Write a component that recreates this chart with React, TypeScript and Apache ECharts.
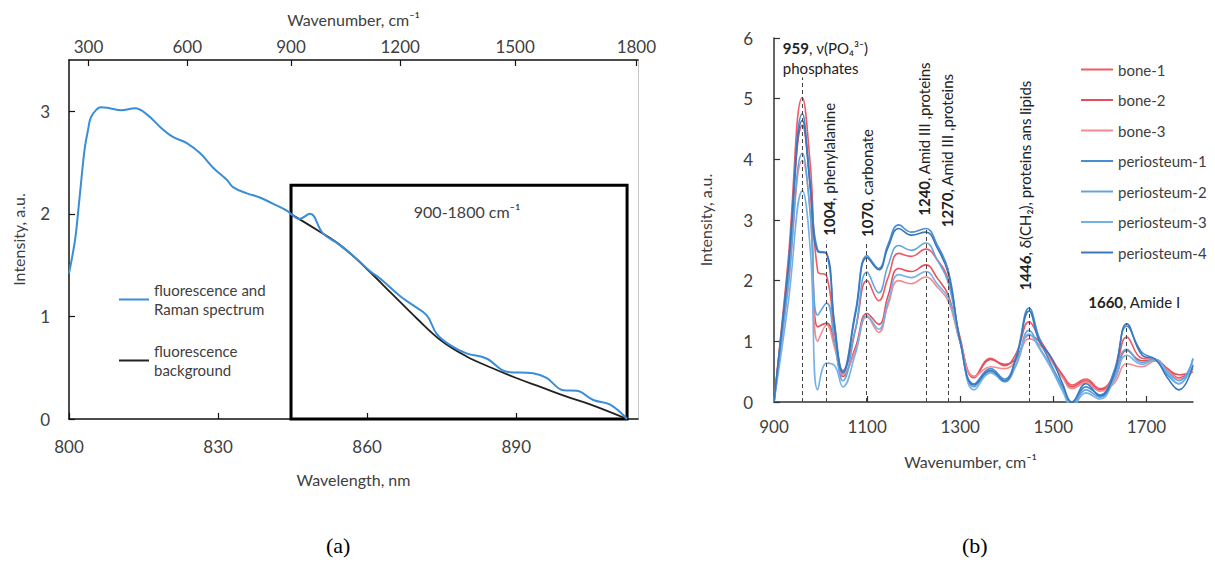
import { useEffect, useRef } from 'react';
import * as echarts from 'echarts';

const FONT = 'Lato, "Open Sans", "DejaVu Sans", sans-serif';
const TXT = '#404040';

// ---------- Panel (a): fluorescence + Raman spectrum ----------
const spectrumNm = [800, 801.2, 801.8, 802.6, 803.2, 803.8, 804.4, 805.6, 806.4, 808.2, 810.5, 813.3, 815.9, 818.5, 820.9, 823.7, 826.4, 829.0, 831.8, 833.0, 835.8, 838.4, 841.0, 843.9, 844.9, 846.3, 848.5, 851.1, 854.1, 857.9, 860.6, 862.6, 866.6, 869.2, 872.0, 874.0, 876.7, 880.0, 884.0, 888.1, 893.4, 896.1, 899.5, 902.2, 905.5, 908.9, 912.3];
const spectrumIntensity = [1.42, 1.74, 2.0, 2.39, 2.65, 2.81, 2.94, 3.02, 3.04, 3.03, 3.01, 3.03, 2.96, 2.84, 2.75, 2.69, 2.59, 2.45, 2.33, 2.26, 2.20, 2.16, 2.10, 2.03, 1.99, 1.95, 2.0, 1.81, 1.71, 1.56, 1.44, 1.37, 1.2, 1.11, 1.01, 0.83, 0.72, 0.64, 0.59, 0.46, 0.445, 0.40, 0.28, 0.275, 0.185, 0.14, 0.0];
const backgroundNm = [844.9, 850, 855, 860, 865, 870, 875, 880, 885, 890, 895, 900, 905, 912.3];
const backgroundIntensity = [1.99, 1.84, 1.68, 1.46, 1.22, 0.98, 0.76, 0.61, 0.5, 0.4, 0.31, 0.22, 0.14, 0.0];
const nmTicks = [800, 830, 860, 890];
const intensityTicksA = [0, 1, 2, 3];
const wavenumberTicks = [300, 600, 900, 1200, 1500, 1800];
const LASER_NM = 785;
const boxRange = [900, 1800];
const boxTop = 2.28;

// ---------- Panel (b): Raman spectra ----------
const ramanShift = [900, 930, 961, 978, 994, 1013, 1030, 1048, 1075, 1100, 1125, 1145, 1168, 1195, 1226, 1250, 1275, 1300, 1330, 1365, 1395, 1420, 1448, 1470, 1495, 1520, 1540, 1570, 1600, 1630, 1658, 1690, 1720, 1745, 1770, 1800];
const bone1 = [0, 2.3, 5.02, 3.9, 2.15, 2.08, 1.15, 0.52, 1.2, 2.0, 1.67, 2.05, 2.45, 2.4, 2.52, 2.35, 2.0, 1.05, 0.42, 0.72, 0.6, 0.8, 1.32, 1.05, 0.72, 0.45, 0.28, 0.38, 0.22, 0.45, 1.07, 0.72, 0.7, 0.55, 0.4, 0.55];
const bone2 = [0, 2.1, 4.56, 3.5, 1.24, 1.3, 0.95, 0.42, 0.9, 1.46, 1.28, 1.75, 2.2, 2.15, 2.26, 2.05, 1.75, 0.98, 0.4, 0.7, 0.62, 0.72, 1.1, 1.0, 0.74, 0.42, 0.25, 0.35, 0.2, 0.35, 0.85, 0.68, 0.68, 0.55, 0.45, 0.5];
const bone3 = [0, 1.85, 3.98, 3.1, 1.0, 1.27, 0.9, 0.45, 0.85, 1.40, 1.15, 1.6, 2.0, 1.95, 2.06, 1.9, 1.65, 0.98, 0.42, 0.58, 0.55, 0.68, 1.04, 0.95, 0.68, 0.4, 0.22, 0.32, 0.18, 0.3, 0.63, 0.58, 0.68, 0.52, 0.38, 0.5];
const periosteum1 = [0, 2.2, 4.75, 3.6, 2.5, 2.45, 1.3, 0.5, 1.5, 2.41, 2.2, 2.6, 2.92, 2.8, 2.86, 2.6, 2.15, 1.0, 0.3, 0.55, 0.38, 0.75, 1.55, 1.05, 0.62, 0.25, -0.05, 0.25, 0.12, 0.5, 1.25, 0.82, 0.7, 0.45, 0.3, 0.72];
const periosteum2 = [0, 1.9, 4.10, 3.1, 1.43, 1.63, 1.0, 0.35, 1.2, 2.14, 1.8, 2.25, 2.58, 2.5, 2.62, 2.35, 1.95, 0.98, 0.25, 0.5, 0.33, 0.62, 1.18, 0.9, 0.58, 0.2, -0.05, 0.2, 0.08, 0.4, 0.87, 0.65, 0.7, 0.5, 0.35, 0.7];
const periosteum3 = [0, 1.6, 3.48, 2.5, 0.2, 0.64, 0.6, 0.25, 0.8, 1.42, 1.2, 1.65, 2.1, 2.05, 2.15, 1.95, 1.7, 0.98, 0.2, 0.48, 0.35, 0.6, 1.12, 0.88, 0.56, 0.18, -0.08, 0.15, 0.05, 0.35, 0.77, 0.62, 0.7, 0.48, 0.3, 0.62];
const periosteum4 = [0, 2.15, 4.64, 3.55, 2.48, 2.45, 1.25, 0.48, 1.45, 2.38, 2.18, 2.55, 2.86, 2.75, 2.8, 2.55, 2.1, 1.0, 0.28, 0.52, 0.35, 0.72, 1.5, 1.0, 0.74, 0.3, 0.0, 0.3, 0.1, 0.45, 1.29, 0.78, 0.7, 0.4, 0.2, 0.6];
const sampleNames = ['bone-1', 'bone-2', 'bone-3', 'periosteum-1', 'periosteum-2', 'periosteum-3', 'periosteum-4'];
const sampleValues = [bone1, bone2, bone3, periosteum1, periosteum2, periosteum3, periosteum4];
const ramanTicks = [900, 1100, 1300, 1500, 1700];

// peak marker lines (position in chart, height of dashed line)
const peakPositions = [961, 1013, 1099, 1226, 1275, 1449, 1657];
const peakLineTops = [5.35, 2.66, 2.62, 2.86, 2.2, 1.6, 1.3];

// peak annotations (data coordinates of text start)
const annotations = [
  { x: 919, y: 5.83, text: '{b|959}, ν(PO₄³⁻)', vertical: false },
  { x: 919, y: 5.5, text: 'phosphates', vertical: false },
  { x: 1018, y: 2.74, text: '{b|1004}, phenylalanine', vertical: true },
  { x: 1099, y: 2.72, text: '{b|1070}, carbonate', vertical: true },
  { x: 1222, y: 3.07, text: '{b|1240}, Amid III ,proteins', vertical: true },
  { x: 1272, y: 2.88, text: '{b|1270}, Amid III ,proteins', vertical: true },
  { x: 1439, y: 1.84, text: '{b|1446}, δ(CH₂), proteins ans lipids', vertical: true },
  { x: 1575, y: 1.65, text: '{b|1660}, Amide I', vertical: false },
];

const sampleColors = ['#EF5A63', '#E34F5A', '#F28C92', '#4A8ED0', '#62A6E0', '#74B2E6', '#3A78BD'];

const toNm = (wn: number) => 1e7 / (1e7 / LASER_NM - wn);
const toWn = (nm: number) => Math.round(1e7 / LASER_NM - 1e7 / nm);

function buildOption(): any {
  const axisTxt = { color: TXT, fontFamily: FONT, fontSize: 17 };
  const nameTxt = { color: TXT, fontFamily: FONT, fontSize: 16 };
  const blackLine = { show: true, onZero: false, lineStyle: { color: '#111', width: 1.5 } };
  const darkLine = { show: true, onZero: false, lineStyle: { color: '#333', width: 1.5 } };
  const tickIn = (c: string) => ({ show: true, inside: true, length: 6, lineStyle: { color: c, width: 1.2 } });
  const plain = (v: number) => String(v);

  const spectrumData = spectrumNm.map((x, i) => [x, spectrumIntensity[i]]);
  const bgData = backgroundNm.map((x, i) => [x, backgroundIntensity[i]]);

  const seriesB = sampleNames.map((name, k) => ({
    name,
    type: 'line',
    xAxisIndex: 2,
    yAxisIndex: 2,
    data: ramanShift.map((x, i) => [x, sampleValues[k][i]]),
    smooth: 0.45,
    symbol: 'none',
    color: sampleColors[k],
    lineStyle: { width: 1.6, color: sampleColors[k] },
    ...(k === 0
      ? {
          markLine: {
            silent: true,
            symbol: ['none', 'none'],
            label: { show: false },
            lineStyle: { type: [4, 3], color: '#444', width: 1 },
            data: peakPositions.map((p, i) => [{ coord: [p, 0] }, { coord: [p, peakLineTops[i]] }]),
          },
        }
      : {}),
  }));

  const hiddenSymbol = { opacity: 0, color: 'transparent', borderWidth: 0 };

  return {
    animation: false,
    backgroundColor: '#fff',
    textStyle: { fontFamily: FONT },
    grid: [
      { left: 69, top: 60, width: 569, height: 359 },
      { left: 774, top: 38, width: 419, height: 364 },
    ],
    legend: [
      {
        data: ['fluorescence and\nRaman spectrum', 'fluorescence\nbackground'],
        orient: 'vertical',
        left: 113,
        top: 266,
        itemWidth: 30,
        itemHeight: 14,
        itemGap: 4,
        selectedMode: false,
        itemStyle: hiddenSymbol,
        textStyle: { color: TXT, fontFamily: FONT, fontSize: 15, lineHeight: 19, padding: [19, 0, 0, 0] },
      },
      {
        data: sampleNames,
        orient: 'vertical',
        left: 1075,
        top: 57,
        itemWidth: 32,
        itemHeight: 14,
        itemGap: 15.5,
        selectedMode: false,
        itemStyle: hiddenSymbol,
        textStyle: { color: TXT, fontFamily: FONT, fontSize: 15 },
      },
    ],
    xAxis: [
      {
        type: 'value', gridIndex: 0, position: 'bottom', min: 800, max: 914.5,
        name: 'Wavelength, nm', nameLocation: 'middle', nameGap: 52, nameTextStyle: nameTxt,
        axisLine: blackLine, axisTick: { ...tickIn('#111'), customValues: nmTicks },
        axisLabel: { ...axisTxt, margin: 19, customValues: nmTicks, formatter: plain }, splitLine: { show: false },
      },
      {
        type: 'value', gridIndex: 0, position: 'top', min: 800, max: 914.5,
        name: 'Wavenumber, cm⁻¹', nameLocation: 'middle', nameGap: 33, nameTextStyle: nameTxt,
        axisLine: blackLine, axisTick: { ...tickIn('#111'), customValues: wavenumberTicks.map(toNm) },
        axisLabel: { ...axisTxt, margin: 5, customValues: wavenumberTicks.map(toNm), formatter: (v: number) => String(toWn(v)) },
        splitLine: { show: false },
      },
      {
        type: 'value', gridIndex: 1, min: 900, max: 1800,
        name: 'Wavenumber, cm⁻¹', nameLocation: 'middle', nameGap: 51, nameTextStyle: { ...nameTxt, padding: [0, 26, 0, 0] },
        axisLine: darkLine, axisTick: { ...tickIn('#333'), customValues: ramanTicks },
        axisLabel: { ...axisTxt, margin: 16, customValues: ramanTicks, formatter: plain }, splitLine: { show: false },
      },
    ],
    yAxis: [
      {
        type: 'value', gridIndex: 0, min: 0, max: 3.5,
        name: 'Intensity, a.u.', nameLocation: 'middle', nameGap: 43, nameTextStyle: nameTxt,
        axisLine: blackLine, axisTick: { ...tickIn('#111'), customValues: intensityTicksA },
        axisLabel: { ...axisTxt, margin: 19, customValues: intensityTicksA, formatter: plain }, splitLine: { show: false },
      },
      {
        type: 'value', gridIndex: 0, position: 'right', min: 0, max: 3.5,
        axisLine: { show: true, onZero: false, lineStyle: { color: '#c8c8c8', width: 1 } },
        axisTick: { show: false }, axisLabel: { show: false }, splitLine: { show: false },
      },
      {
        type: 'value', gridIndex: 1, min: 0, max: 6, interval: 1,
        name: 'Intensity, a.u.', nameLocation: 'middle', nameGap: 61, nameTextStyle: nameTxt,
        axisLine: darkLine, axisTick: tickIn('#333'),
        axisLabel: { ...axisTxt, margin: 21, formatter: plain }, splitLine: { show: false },
      },
    ],
    series: [
      {
        name: 'fluorescence and\nRaman spectrum', type: 'line', xAxisIndex: 0, yAxisIndex: 0,
        data: spectrumData, smooth: 0.4, symbol: 'none', color: '#3A8DD6',
        lineStyle: { width: 2, color: '#3A8DD6' }, z: 3,
      },
      {
        name: 'fluorescence\nbackground', type: 'line', xAxisIndex: 0, yAxisIndex: 0,
        data: bgData, smooth: 0.4, symbol: 'none', color: '#222',
        lineStyle: { width: 1.8, color: '#222' }, z: 2,
        markArea: {
          silent: true,
          itemStyle: { color: 'rgba(0,0,0,0)', borderColor: '#000', borderWidth: 3 },
          label: {
            show: true, position: 'insideTop', offset: [8, 15],
            color: TXT, fontFamily: FONT, fontSize: 16,
          },
          data: [[
            { name: `${boxRange[0]}-${boxRange[1]} cm⁻¹`, xAxis: toNm(boxRange[0]), yAxis: 0 },
            { xAxis: spectrumNm[spectrumNm.length - 1], yAxis: boxTop },
          ]],
        },
      },
      ...seriesB,
    ],
  };
}

export default function App() {
  const ref = useRef<HTMLDivElement>(null);
  useEffect(() => {
    if (!ref.current) return;
    const chart = echarts.init(ref.current, null, { renderer: 'svg' });
    chart.setOption(buildOption());

    const richB = { b: { fontWeight: 'bold', fontSize: 15, fontFamily: FONT, fill: '#222' } };
    const texts = annotations.map((a) => {
      const p = chart.convertToPixel({ seriesIndex: 2 }, [a.x, a.y]) as number[];
      return {
        type: 'text',
        x: p[0],
        y: p[1],
        rotation: a.vertical ? Math.PI / 2 : 0,
        silent: true,
        z: 10,
        style: {
          text: a.text,
          fill: '#222',
          fontSize: 15,
          fontFamily: FONT,
          align: 'left',
          verticalAlign: 'middle',
          rich: richB,
        },
      };
    });
    const letters = [
      { type: 'text', left: 326, top: 534, style: { text: '(a)', fill: '#000', fontSize: 22, fontFamily: '"Liberation Serif", "Times New Roman", serif' } },
      { type: 'text', left: 962, top: 534, style: { text: '(b)', fill: '#000', fontSize: 22, fontFamily: '"Liberation Serif", "Times New Roman", serif' } },
    ];
    chart.setOption({ graphic: [...texts, ...letters] });
    return () => chart.dispose();
  }, []);
  return (
    <div
      ref={ref}
      style={{ position: 'absolute', left: 0, top: 0, width: 1215, height: 563, background: '#fff' }}
    />
  );
}
